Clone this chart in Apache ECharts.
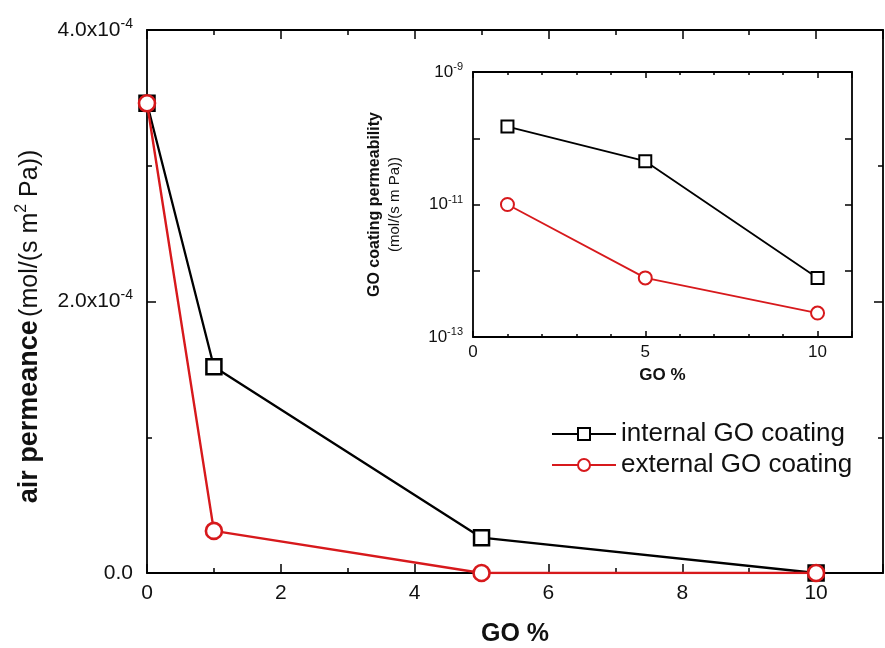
<!DOCTYPE html>
<html>
<head>
<meta charset="utf-8">
<script src="https://cdn.jsdelivr.net/npm/echarts@6/dist/echarts.min.js"></script>
<style>
  html, body { margin: 0; padding: 0; background: #fff; }
  #chart { width: 885px; height: 648px; }
</style>
</head>
<body>
<div id="chart"></div>
<script>
// main panel: air permeance vs GO %
const goPercent = [0, 1, 5, 10]
const internalPermeance = [3.46e-4, 1.52e-4, 0.26e-4, 0]
const externalPermeance = [3.46e-4, 0.31e-4, 0, 0]

// inset: GO coating permeability (log scale)
const insetGoPercent = [1, 5, 10]
const internalCoating = [1.5e-10, 4.5e-11, 7.8e-13]
const externalCoating = [1.0e-11, 7.8e-13, 2.3e-13]

const seriesNames = ['internal GO coating', 'external GO coating']
const RED = '#d7191c'
const FONT = 'Liberation Sans, Arial, sans-serif'

const pairs = (xs, ys) => xs.map((x, i) => [x, ys[i]])

const mainYLabel = v => {
    if (Math.abs(v) < 1e-12) return '{a|0.0}'
    return '{a|' + (v / 1e-4).toFixed(1) + 'x10}{b|-4}'
}
const insetYLabel = v => {
    const e = Math.round(Math.log10(v))
    if (Math.abs(e) % 2 === 0) return ''
    return '{a|10}{b|' + e + '}'
}

const tickStyle = (len, minorLen, split) => ({
    axisTick: { show: true, inside: true, length: len, lineStyle: { color: '#000', width: 1.5 } },
    minorTick: { show: split > 0, splitNumber: split || 2, length: minorLen, lineStyle: { color: '#000', width: 1.5 } },
    axisLine: { show: true, onZero: false, lineStyle: { color: '#000', width: 1.8 } },
    splitLine: { show: false },
})

const chart = echarts.init(document.getElementById('chart'))
chart.setOption({
    backgroundColor: '#fff',
    textStyle: { fontFamily: FONT },
    animation: false,
    grid: [
        { left: 147, top: 30, right: 2, bottom: 75, outerBoundsMode: 'none', containLabel: false },
        { left: 473, top: 72, right: 33, bottom: 311, outerBoundsMode: 'none', containLabel: false },
    ],
    legend: {
        data: seriesNames,
        orient: 'vertical',
        left: 546,
        top: 416,
        itemWidth: 64,
        itemHeight: 15,
        itemGap: 5,
        textStyle: { fontSize: 26, color: '#111', fontFamily: FONT },
    },
    xAxis: [
        Object.assign({
            type: 'value', gridIndex: 0, min: 0, max: 11, interval: 2,
            name: 'GO %', nameLocation: 'middle', nameGap: 49,
            nameTextStyle: { fontSize: 25, fontWeight: 'bold', color: '#111' },
            axisLabel: { fontSize: 21, color: '#111', margin: 10, showMaxLabel: false,
                formatter: v => (v > 10 ? '' : String(v)) },
        }, tickStyle(9, 5, 2)),
        Object.assign({
            type: 'value', gridIndex: 0, position: 'top', min: 0, max: 11, interval: 2,
            axisLabel: { show: false },
        }, tickStyle(9, 5, 2)),
        Object.assign({
            type: 'value', gridIndex: 1, min: 0, max: 11, interval: 5,
            name: 'GO %', nameLocation: 'middle', nameGap: 30,
            nameTextStyle: { fontSize: 17, fontWeight: 'bold', color: '#111' },
            axisLabel: { fontSize: 17, color: '#111', margin: 7, showMaxLabel: false,
                formatter: v => (v > 10 ? '' : String(v)) },
        }, tickStyle(6, 3, 5)),
        Object.assign({
            type: 'value', gridIndex: 1, position: 'top', min: 0, max: 11, interval: 5,
            axisLabel: { show: false },
        }, tickStyle(6, 3, 5)),
    ],
    yAxis: [
        Object.assign({
            type: 'value', gridIndex: 0, min: 0, max: 4e-4, interval: 2e-4,
            name: '{t|air permeance} {r|(mol/(s m}{s|2}{r| Pa))}',
            nameLocation: 'middle', nameGap: 101,
            nameTextStyle: {
                color: '#111',
                padding: [0, 50, 0, 0],
                rich: {
                    t: { fontSize: 27, fontWeight: 'bold', fontFamily: FONT, color: '#111' },
                    r: { fontSize: 25, fontFamily: FONT, color: '#111' },
                    s: { fontSize: 16, fontFamily: FONT, color: '#111', padding: [0, 0, 16, 0] },
                },
            },
            axisLabel: {
                margin: 14, formatter: mainYLabel,
                rich: {
                    a: { fontSize: 21, color: '#111', fontFamily: FONT },
                    b: { fontSize: 14, color: '#111', fontFamily: FONT, padding: [0, 0, 12, 0] },
                },
            },
        }, tickStyle(9, 5, 2)),
        Object.assign({
            type: 'value', gridIndex: 0, position: 'right', min: 0, max: 4e-4, interval: 2e-4,
            axisLabel: { show: false },
        }, tickStyle(9, 5, 2)),
        Object.assign({
            type: 'log', gridIndex: 1, logBase: 10, min: 1e-13, max: 1e-9, interval: 1,
            name: '{t|GO coating permeability}\n{r|(mol/(s m Pa))}',
            nameLocation: 'middle', nameGap: 68,
            nameTextStyle: {
                color: '#111',
                rich: {
                    t: { fontSize: 16, fontWeight: 'bold', fontFamily: FONT, color: '#111', lineHeight: 20 },
                    r: { fontSize: 15, fontFamily: FONT, color: '#111', lineHeight: 20 },
                },
            },
            axisLabel: {
                margin: 10, formatter: insetYLabel,
                rich: {
                    a: { fontSize: 17, color: '#111', fontFamily: FONT },
                    b: { fontSize: 11, color: '#111', fontFamily: FONT, padding: [0, 0, 10, 0] },
                },
            },
        }, tickStyle(7, 3, 0)),
        Object.assign({
            type: 'log', gridIndex: 1, logBase: 10, position: 'right', min: 1e-13, max: 1e-9, interval: 1,
            axisLabel: { show: false },
        }, tickStyle(7, 3, 0)),
    ],
    series: [
        {
            name: seriesNames[0], type: 'line', xAxisIndex: 0, yAxisIndex: 0,
            data: pairs(goPercent, internalPermeance),
            symbol: 'rect', symbolSize: 15,
            lineStyle: { color: '#000', width: 2.3 },
            itemStyle: { color: '#fff', borderColor: '#000', borderWidth: 2.5 },
            z: 3,
        },
        {
            name: seriesNames[1], type: 'line', xAxisIndex: 0, yAxisIndex: 0,
            data: pairs(goPercent, externalPermeance),
            symbol: 'circle', symbolSize: 16,
            lineStyle: { color: RED, width: 2.4 },
            itemStyle: { color: '#fff', borderColor: RED, borderWidth: 2.6 },
            z: 4,
        },
        {
            name: 'inset internal', type: 'line', xAxisIndex: 2, yAxisIndex: 2,
            data: pairs(insetGoPercent, internalCoating),
            symbol: 'rect', symbolSize: 12,
            lineStyle: { color: '#000', width: 1.8 },
            itemStyle: { color: '#fff', borderColor: '#000', borderWidth: 2 },
        },
        {
            name: 'inset external', type: 'line', xAxisIndex: 2, yAxisIndex: 2,
            data: pairs(insetGoPercent, externalCoating),
            symbol: 'circle', symbolSize: 13,
            lineStyle: { color: RED, width: 1.8 },
            itemStyle: { color: '#fff', borderColor: RED, borderWidth: 2 },
        },
    ],
})
</script>
</body>
</html>
